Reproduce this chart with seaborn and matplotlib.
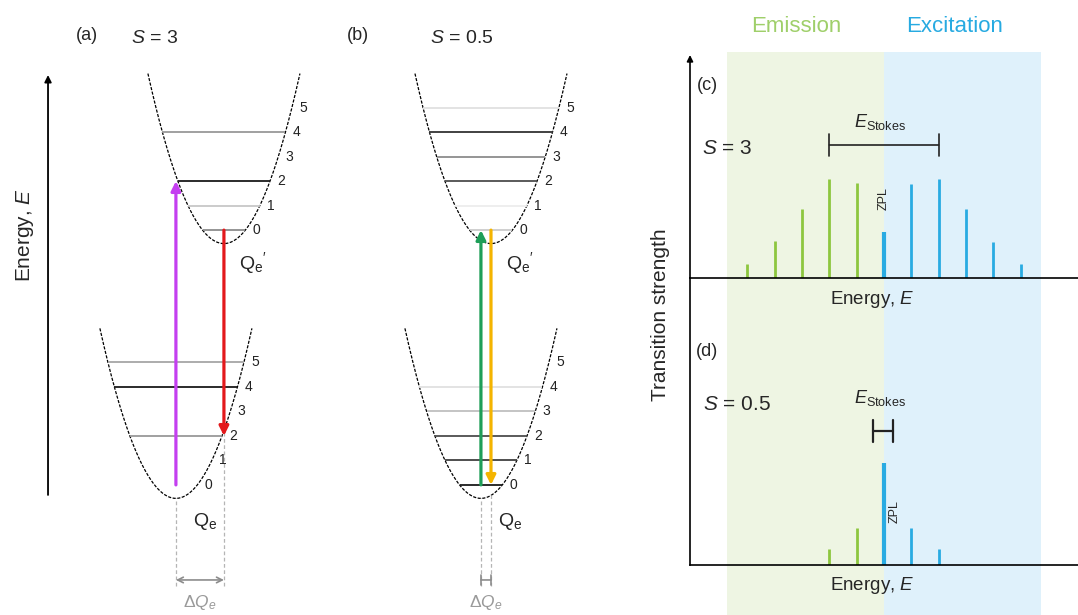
import numpy as np
import pandas as pd
import matplotlib
matplotlib.use("Agg")
import matplotlib.pyplot as plt
import seaborn as sns

sns.set_theme(style="white")
plt.rcParams['font.family'] = ['Liberation Sans', 'DejaVu Sans']
plt.rcParams['mathtext.fontset'] = 'custom'
plt.rcParams['mathtext.rm'] = 'Liberation Sans'
plt.rcParams['mathtext.it'] = 'Liberation Sans:italic'
plt.rcParams['mathtext.bf'] = 'Liberation Sans:bold'

# ---- configuration coordinate diagrams (a), (b); unit = one vibrational quantum
panel_tags = ["(a)", "(b)"]
huang_rhys = ["3", "0.5"]
q_ground = [7.18, 19.63]        # position of the ground-state minimum
delta_q = [1.96, 0.41]          # offset of the excited-state minimum
e_ground = 4.76
e_excited = 15.16
curvature = 0.721
well_depth = 6.94
zero_point = 0.55
levels = [0, 1, 2, 3, 4, 5]
# grey value of each vibrational level line (1.0 = not drawn)
shade_ground = [[1.0, 1.0, 0.6, 1.0, 0.1, 0.65],
                [0.1, 0.25, 0.3, 0.75, 0.88, 1.0]]
shade_excited = [[0.55, 0.78, 0.1, 1.0, 0.6, 1.0],
                 [0.8, 0.93, 0.3, 0.55, 0.2, 0.88]]
absorb_to = [2, 0]              # excited level reached by absorption
emit_to = [2, 0]                # ground level reached by emission
absorb_colors = ["#c43ff0", "#1e9e58"]
emit_colors = ["#e3191c", "#f4b400"]

# ---- transition spectra (c), (d); x in phonon quanta from the ZPL
phonon_k = [-5, -4, -3, -2, -1, 0, 1, 2, 3, 4, 5]
strength_c = [0.14, 0.37, 0.69, 0.99, 0.95, 0.46, 0.94, 0.99, 0.69, 0.36, 0.14]
strength_d = [0.0, 0.0, 0.0, 0.16, 0.37, 1.02, 0.37, 0.16, 0.0, 0.0, 0.0]
stokes_c = [-2.0, 2.0]
stokes_d = [-0.4, 0.33]
emission_green = "#8dc63f"
excitation_blue = "#29abe2"

W, H = 1078, 615
fig = plt.figure(figsize=(W / 100, H / 100), dpi=100)


def rect(x0, y0, x1, y1):
    return [x0 / W, 1 - y1 / H, (x1 - x0) / W, (y1 - y0) / H]


# ================= left: parabolas =================
ax = fig.add_axes(rect(0, 0, 620, 615))
ax.set_xlim(0, 620 / 24.5)
ax.set_ylim(0, 615 / 24.5)
ax.axis("off")

half = np.sqrt(well_depth / curvature)
q_rel = np.linspace(-half, half, 200)
rows = []
wells = []
for p in range(2):
    wells.append((p, q_ground[p], e_ground, shade_ground[p]))
    wells.append((p, q_ground[p] + delta_q[p], e_excited, shade_excited[p]))
for i, (p, q0, e0, _) in enumerate(wells):
    for q in q_rel:
        rows.append({"Q": q0 + q, "E": e0 + curvature * q ** 2, "well": i})
df = pd.DataFrame(rows)
sns.lineplot(data=df, x="Q", y="E", units="well", estimator=None, color="black",
             lw=0.9, linestyle=(0, (2.5, 1.2)), legend=False, ax=ax)

for i, (p, q0, e0, shades) in enumerate(wells):
    for n in levels:
        en = e0 + n + zero_point
        hw = np.sqrt((n + zero_point) / curvature)
        if shades[n] < 1.0:
            ax.hlines(en, q0 - hw, q0 + hw, color=str(shades[n]), lw=1.3)
        ax.text(q0 + hw + 0.3, en, str(n), fontsize=10, color="#222222",
                ha="left", va="center")
    excited = (i % 2 == 1)
    label = r"$\mathrm{Q_e}^{\prime}$" if excited else r"$\mathrm{Q_e}$"
    ax.text(q0 + 1.2, e0 - (0.78 if excited else 0.95), label, fontsize=14,
            ha="center", va="center")

for p in range(2):
    qg = q_ground[p]
    qe = q_ground[p] + delta_q[p]
    # absorption (up) at ground minimum, emission (down) at excited minimum
    ax.annotate("", xy=(qg, e_excited + absorb_to[p] + zero_point),
                xytext=(qg, e_ground + zero_point),
                arrowprops=dict(arrowstyle="-|>", color=absorb_colors[p], lw=2.3,
                                mutation_scale=14, shrinkA=0, shrinkB=0))
    ax.annotate("", xy=(qe, e_ground + emit_to[p] + zero_point),
                xytext=(qe, e_excited + zero_point),
                arrowprops=dict(arrowstyle="-|>", color=emit_colors[p], lw=2.3,
                                mutation_scale=14, shrinkA=0, shrinkB=0))
    # dashed guides and displacement
    for q in (qg, qe):
        ax.vlines(q, 1.2, e_ground + curvature * (q - qg) ** 2, color="#b5b5b5",
                  lw=0.9, linestyle=(0, (3, 2)))
    if delta_q[p] > 1:
        ax.annotate("", xy=(qe, 1.43), xytext=(qg, 1.43),
                    arrowprops=dict(arrowstyle="<->", color="#8c8c8c", lw=1.2,
                                    mutation_scale=10, shrinkA=0, shrinkB=0))
    else:
        ax.annotate("", xy=(qe, 1.43), xytext=(qg, 1.43),
                    arrowprops=dict(arrowstyle="|-|", color="#8c8c8c", lw=1.2,
                                    mutation_scale=3.5, shrinkA=0, shrinkB=0))
    ax.text((qg + qe) / 2, 0.9, r"$\Delta Q_e$", fontsize=12.5, color="#9a9a9a",
            ha="center", va="top")

tag_x = [3.55, 14.61]
s_x = [6.33, 18.86]
for p in range(2):
    ax.text(tag_x[p], 23.67, panel_tags[p], fontsize=13, ha="center", va="center")
    ax.text(s_x[p], 23.55, r"$S$ = " + huang_rhys[p], fontsize=14,
            ha="center", va="center")

ax.annotate("", xy=(1.96, 22.04), xytext=(1.96, 4.9),
            arrowprops=dict(arrowstyle="-|>", color="black", lw=1.3,
                            mutation_scale=10, shrinkA=0, shrinkB=0))
ax.text(1.02, 15.5, r"Energy, $E$", fontsize=15, rotation=90,
        ha="center", va="center")

# ================= right: spectra =================
xlim = (-7.1, 7.1)
ax_bg = fig.add_axes(rect(690, 0, 1078, 615))
ax_bg.set_xlim(*xlim)
ax_bg.set_ylim(0, 1)
ax_bg.axis("off")
top = 1 - 52 / H
ax_bg.axvspan(-5.75, 0, ymin=0, ymax=top, color="#eef5e3", lw=0)
ax_bg.axvspan(0, 5.75, ymin=0, ymax=top, color="#dff1fb", lw=0)
ax_bg.text(-3.2, 1 - 27 / H, "Emission", color="#9fcf6a", fontsize=16,
           ha="center", va="center")
ax_bg.text(2.6, 1 - 27 / H, "Excitation", color="#27aae1", fontsize=16,
           ha="center", va="center")

ax_c = fig.add_axes(rect(690, 55, 1078, 278))
ax_d = fig.add_axes(rect(690, 278, 1078, 565))
ax_c.set_ylim(0, 2.23)
ax_d.set_ylim(0, 2.87)
spectra = [(ax_c, strength_c), (ax_d, strength_d)]
for a, strength in spectra:
    a.set_xlim(*xlim)
    a.patch.set_visible(False)
    a.set_xticks([])
    a.set_yticks([])
    for s in ("top", "right"):
        a.spines[s].set_visible(False)
    for s in ("left", "bottom"):
        a.spines[s].set_color("black")
        a.spines[s].set_linewidth(1.2)
    for k, h in zip(phonon_k, strength):
        if h <= 0:
            continue
        col = emission_green if k < 0 else excitation_blue
        a.vlines(k, 0, h, color=col, lw=3.0 if k == 0 else 2.0)

ax_c.spines["left"].set_visible(False)
ax_c.annotate("", xy=(0, 1), xytext=(0, 0), xycoords="axes fraction",
              arrowprops=dict(arrowstyle="-|>", color="black", lw=1.2,
                              mutation_scale=9, shrinkA=0, shrinkB=0))

# Stokes shift bars
ax_c.annotate("", xy=(stokes_c[1], 1.33), xytext=(stokes_c[0], 1.33),
              arrowprops=dict(arrowstyle="|-|", color="#222222", lw=1.2,
                              mutation_scale=8, shrinkA=0, shrinkB=0))
ax_c.text(-0.15, 1.56, r"$E_{\mathrm{Stokes}}$", fontsize=13, ha="center", va="center")
ax_d.annotate("", xy=(stokes_d[1], 1.34), xytext=(stokes_d[0], 1.34),
              arrowprops=dict(arrowstyle="|-|", color="#222222", lw=1.6,
                              mutation_scale=8, shrinkA=0, shrinkB=0))
ax_d.text(-0.15, 1.67, r"$E_{\mathrm{Stokes}}$", fontsize=13, ha="center", va="center")

ax_c.text(0, 0.79, "ZPL", rotation=90, fontsize=9, ha="center", va="center")
ax_d.text(0.4, 0.53, "ZPL", rotation=90, fontsize=9, ha="center", va="center")

ax_c.text(-6.48, 1.93, "(c)", fontsize=13, ha="center", va="center")
ax_c.text(-5.75, 1.30, r"$S$ = 3", fontsize=15, ha="center", va="center")
ax_d.text(-6.48, 2.13, "(d)", fontsize=13, ha="center", va="center")
ax_d.text(-5.38, 1.61, r"$S$ = 0.5", fontsize=15, ha="center", va="center")

ax_c.text(-0.44, -0.22, r"Energy, $E$", fontsize=13.5, ha="center", va="center",
          clip_on=False)
ax_d.text(-0.44, -0.20, r"Energy, $E$", fontsize=13.5, ha="center", va="center",
          clip_on=False)

fig.text(660 / W, 1 - 315 / H, "Transition strength", rotation=90, fontsize=15,
         ha="center", va="center")

fig.savefig("out.png", dpi=100)
